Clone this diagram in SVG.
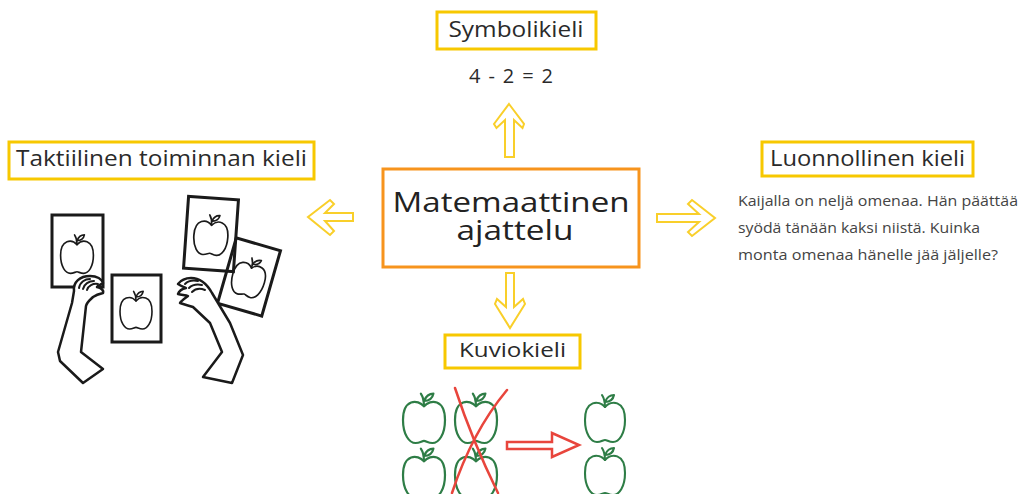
<svg xmlns="http://www.w3.org/2000/svg" xmlns:xlink="http://www.w3.org/1999/xlink" width="1024" height="494" viewBox="0 0 1024 494">
  <style>
    .label-box { fill: #ffffff; stroke: #f7c800; stroke-width: 3; }
    .label { font-family: "Open Sans", "Liberation Sans", sans-serif; font-size: 21px; fill: #2a2a2a; text-anchor: middle; }
    .main-box { fill: #ffffff; stroke: #f7941d; stroke-width: 3; }
    .main { font-family: "Open Sans", "Liberation Sans", sans-serif; font-size: 27px; fill: #222222; text-anchor: middle; }
    .body { font-family: "Open Sans", "Liberation Sans", sans-serif; font-size: 14.5px; fill: #444444; }
    .eq { font-family: "Open Sans", "Liberation Sans", sans-serif; font-size: 20px; fill: #2a2a2a; text-anchor: middle; }
    .yarrow { fill: #ffffff; stroke: #f9cf2a; stroke-width: 2; stroke-linejoin: miter; }
    .card { fill: none; stroke: #1a1a1a; stroke-width: 3; }
    .arm { fill: #ffffff; stroke: #1a1a1a; stroke-width: 2.5; stroke-linejoin: round; }
    .finger { fill: none; stroke: #1a1a1a; stroke-width: 2; stroke-linecap: round; }
    .green-apple { stroke: #2e7d46; stroke-width: 2.1; }
    .card-apple { stroke: #1a1a1a; stroke-width: 2; }
    .red { fill: none; stroke: #e8453c; stroke-width: 2.5; stroke-linecap: round; }
  </style>
  <defs>
    <!-- outlined apple, body centred on the origin -->
    <g id="apple" fill="none" stroke-linejoin="round" stroke-linecap="round">
      <path d="M0,-15 C6,-22 20,-22 20,-2 C20,12 14,20 8,20 C4,20 2,18 0,18 C-2,18 -4,20 -8,20 C-14,20 -20,12 -20,-2 C-20,-22 -6,-22 0,-15 Z"/>
      <path d="M0,-15 C0,-20 -1,-24 -3,-27"/>
      <path d="M0,-20 C2,-25 6,-27 9,-27 C8,-22 5,-20 0,-20 Z"/>
    </g>
  </defs>

  <rect width="1024" height="494" fill="#ffffff"/>

  <!-- connectors: hollow arrows from the central node -->
  <g id="connectors">
    <polygon class="yarrow" points="509,104 524,124 522.5,128 514,120 514,157 505,157 505,120 496.5,128 494,124"/>
    <polygon class="yarrow" points="506,273 514,273 514,307 523,299 525,304 510,328 495,304 497,299 506,307"/>
    <polygon class="yarrow" points="657,214 699,214 688,204 692,200 715,218 692,236 688,232 699,222 657,222"/>
    <polygon class="yarrow" points="353,213 325,213 334,204 330,200 308,217 330,235 334,231 325,221 353,221"/>
  </g>

  <!-- central node -->
  <g id="node-center">
    <rect class="main-box" x="383" y="169" width="256" height="98"/>
    <text class="main" x="511" y="212" textLength="237" lengthAdjust="spacingAndGlyphs">Matemaattinen</text>
    <text class="main" x="515" y="240" textLength="117" lengthAdjust="spacingAndGlyphs">ajattelu</text>
  </g>

  <!-- symbolic language -->
  <g id="node-symbol">
    <rect class="label-box" x="437" y="12" width="159" height="37"/>
    <text class="label" x="516" y="37" textLength="135" lengthAdjust="spacingAndGlyphs">Symbolikieli</text>
    <text class="eq" x="511" y="83" textLength="84" lengthAdjust="spacing">4 - 2 = 2</text>
  </g>

  <!-- natural language -->
  <g id="node-natural">
    <rect class="label-box" x="762" y="142" width="211" height="34"/>
    <text class="label" x="867.5" y="166" textLength="195" lengthAdjust="spacingAndGlyphs">Luonnollinen kieli</text>
    <text class="body" x="738" y="206" textLength="280" lengthAdjust="spacingAndGlyphs">Kaijalla on neljä omenaa. Hän päättää</text>
    <text class="body" x="738" y="233" textLength="242" lengthAdjust="spacingAndGlyphs">syödä tänään kaksi niistä. Kuinka</text>
    <text class="body" x="738" y="260" textLength="260" lengthAdjust="spacingAndGlyphs">monta omenaa hänelle jää jäljelle?</text>
  </g>

  <!-- tactile / hands-on language -->
  <g id="node-tactile">
    <rect class="label-box" x="9" y="142" width="305" height="37"/>
    <text class="label" x="161.5" y="166" textLength="291" lengthAdjust="spacingAndGlyphs">Taktiilinen toiminnan kieli</text>

    <!-- picture cards -->
    <rect class="card" x="52" y="215" width="51" height="72"/>
    <use xlink:href="#apple" href="#apple" class="card-apple" transform="translate(77,257) scale(0.82)"/>
    <rect class="card" x="112" y="275" width="49" height="67"/>
    <use xlink:href="#apple" href="#apple" class="card-apple" transform="translate(136,313) scale(0.8)"/>
    <g transform="translate(211,234) rotate(4)">
      <rect class="card" x="-25" y="-36" width="50" height="72"/>
      <use xlink:href="#apple" href="#apple" class="card-apple" transform="translate(0,4) scale(0.85)"/>
    </g>
    <g transform="translate(249,277) rotate(16)">
      <rect class="card" x="-23" y="-34" width="46" height="68"/>
      <use xlink:href="#apple" href="#apple" class="card-apple" transform="translate(0,3) scale(0.82)"/>
    </g>

    <!-- left arm and hand -->
    <path class="arm" d="M74,291 C73,282 80,276 90,276 C97,276 102,279 103,283 C100,285 98,286 97,287 C101,288 104,290 103,293 C99,294 96,295 93,297 C90,300 87,302 86,306 L81,352 L103,369 L83,383 L60,361 L58,352 L72,303 Z"/>
    <path class="finger" d="M79,288 C80,282 85,279 90,279"/>
    <path class="finger" d="M83,289 C84,284 89,281 94,281"/>
    <path class="finger" d="M87,290 C88,286 93,283 98,284"/>

    <!-- right arm and hand -->
    <path class="arm" d="M212,293 C207,284 200,278 191,278 C186,278 181,280 178,284 C181,286 184,287 186,288 C182,289 179,291 178,294 C182,295 186,295 188,296 C184,299 181,301 180,303 C186,305 190,306 193,307 L210,323 L222,352 L203,377 L232,383 L243,355 L230,323 Z"/>
    <path class="finger" d="M185,284 C188,281 193,280 198,281"/>
    <path class="finger" d="M189,288 C192,285 197,284 202,285"/>
    <path class="finger" d="M192,292 C195,289 200,288 205,290"/>
  </g>

  <!-- pictorial language -->
  <g id="node-picture">
    <rect class="label-box" x="445" y="335" width="135" height="33"/>
    <text class="label" x="512.5" y="357" style="font-size:20px" textLength="107" lengthAdjust="spacingAndGlyphs">Kuviokieli</text>

    <use xlink:href="#apple" href="#apple" class="green-apple" transform="translate(424,422) scale(1.05)"/>
    <use xlink:href="#apple" href="#apple" class="green-apple" transform="translate(476,422) scale(1.05)"/>
    <use xlink:href="#apple" href="#apple" class="green-apple" transform="translate(424,477) scale(1.05)"/>
    <use xlink:href="#apple" href="#apple" class="green-apple" transform="translate(476,477) scale(1.05)"/>
    <use xlink:href="#apple" href="#apple" class="green-apple" transform="translate(605,422) scale(1.0)"/>
    <use xlink:href="#apple" href="#apple" class="green-apple" transform="translate(605,475) scale(1.0)"/>

    <!-- crossed-out pair -->
    <path class="red" d="M455,388 Q472,440 498,493"/>
    <path class="red" d="M507,390 Q472,432 452,493"/>
    <polygon class="red" stroke-width="2" points="507,442 552,442 552,433 579,445 552,457 552,449 507,449"/>
  </g>
</svg>
